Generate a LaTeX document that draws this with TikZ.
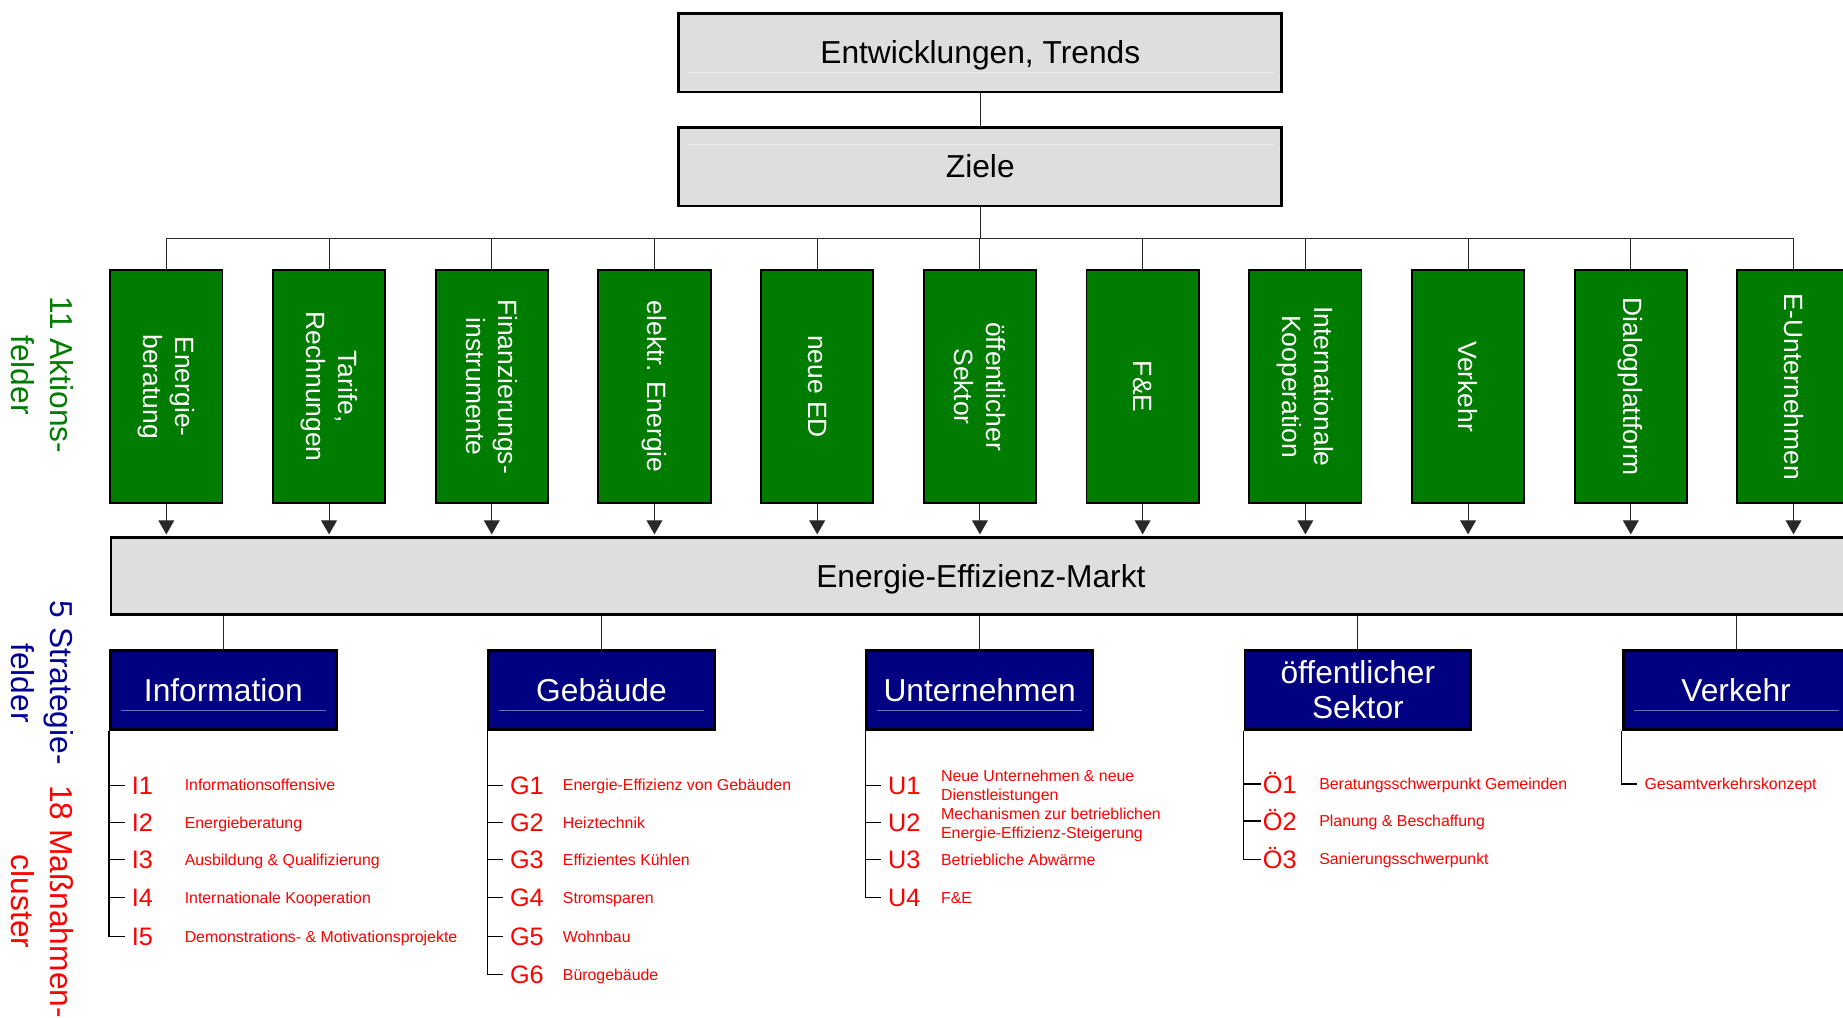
\documentclass[tikz,border=0pt]{standalone}
\usepackage{fontspec}
\setmainfont{Liberation Sans}
\usetikzlibrary{arrows.meta,calc}
\definecolor{aktgreen}{RGB}{0,124,0}
\definecolor{navyfill}{RGB}{0,0,128}
\definecolor{navytext}{RGB}{0,0,150}
\definecolor{boxgray}{RGB}{222,222,222}
\definecolor{itemred}{RGB}{255,0,0}
\definecolor{innerline}{RGB}{110,110,190}
\definecolor{faintline}{RGB}{238,238,238}
\definecolor{connline}{RGB}{40,40,40}
\begin{document}
\begin{tikzpicture}[x=1pt,y=-1pt,
  topbox/.style={draw=black,line width=2.3pt,fill=boxgray,minimum width=513pt,minimum height=67pt,inner sep=0pt,text height=19.3pt,text depth=0pt,font=\fontsize{27}{30}\selectfont},
  gbox/.style={draw=black,line width=1.6pt,fill=aktgreen,minimum width=95.5pt,minimum height=198pt,inner sep=0pt},
  gtext/.style={rotate=-90,text=white,align=center,inner sep=0pt,font=\fontsize{22.5}{27}\selectfont},
  mbox/.style={draw=black,line width=2.3pt,fill=boxgray,minimum width=1480pt,minimum height=66pt,inner sep=0pt,text height=19.3pt,text depth=0pt,font=\fontsize{27}{30}\selectfont},
  sbox/.style={draw=black,line width=2.4pt,fill=navyfill,minimum width=192pt,minimum height=67pt,inner sep=0pt,text=white,align=center,font=\fontsize{27}{30}\selectfont},
  conn/.style={draw=connline,line width=0.9pt},
  arr/.style={conn,-{Triangle[length=12pt,width=13.5pt]},shorten >=1.2pt},
  code/.style={anchor=west,inner xsep=6pt,inner ysep=0pt,text=itemred,text height=15.4pt,text depth=0pt,font=\fontsize{21.5}{24}\selectfont},
  desc/.style={anchor=west,inner sep=0pt,text=itemred,text height=9.7pt,text depth=0pt,font=\fontsize{13.5}{16}\selectfont},
  desctwo/.style={anchor=west,inner sep=0pt,text=itemred,align=left,font=\fontsize{13.5}{16}\selectfont},
  lab/.style={rotate=-90,align=center,inner sep=0pt,font=\fontsize{27}{33}\selectfont},
  tick/.style={draw=black,line width=1pt}
]
\useasboundingbox (0,0) rectangle (1568,866);
\clip (0,0) rectangle (1568,866);

% top boxes
\node[topbox] (trends) at (834,44.7) {Entwicklungen, Trends};
\node[topbox] (ziele) at (834,141.7) {Ziele};
\draw[faintline,line width=0.6pt] ([xshift=9pt,yshift=17.5pt]trends.south west) -- ([xshift=-9pt,yshift=17.5pt]trends.south east);
\draw[faintline,line width=0.6pt] ([xshift=9pt,yshift=-16pt]ziele.north west) -- ([xshift=-9pt,yshift=-16pt]ziele.north east);
\draw[conn] (trends.south) -- (ziele.north);

% market box
\node[mbox] (mm) at (834.5,490) {Energie-Effizienz-Markt};

\coordinate (busy) at (0,203);

% action fields
\foreach \k/\t in {1/{Energie-\\beratung},2/{Tarife,\\Rechnungen},3/{Finanzierungs-\\instrumente},4/{elektr. Energie},5/{neue ED},6/{öffentlicher\\Sektor},7/{F\&E},8/{Internationale\\Kooperation},9/{Verkehr},10/{Dialogplattform},11/{E-Unternehmen}}{
  \node[gbox] (g\k) at ({141.5+138.44*(\k-1)},328.9) {};
  \node[gtext] (gt\k) at (g\k) {\t};
  \draw[conn] (ziele.south) -- (ziele.south |- busy) -| (g\k.north);
  \draw[arr] (g\k.south) -- (g\k.south |- mm.north);
}

% strategy fields
\foreach \k/\t in {1/Information,2/Gebäude,3/Unternehmen,4/{öffentlicher\\Sektor},5/Verkehr}{
  \node[sbox] (s\k) at ({190+321.75*(\k-1)},587) {\t};
  \draw[conn] (s\k.north |- mm.south) -- (s\k.north);
}
\foreach \k in {1,2,3,5}{
  \draw[draw=innerline,line width=0.6pt] ([xshift=10pt,yshift=17.5pt]s\k.south west) -- ([xshift=-10pt,yshift=17.5pt]s\k.south east);
}

% Information items
\foreach \n/\c/\d/\yy in {1/I1/Informationsoffensive/668,2/I2/Energieberatung/700,3/I3/{Ausbildung \& Qualifizierung}/731.5,4/I4/{Internationale Kooperation}/763.5,5/I5/{Demonstrations- \& Motivationsprojekte}/797}{
  \node[code] (ic\n) at (106,\yy) {\c};
  \node[desc] (id\n) at (157,\yy) {\d};
  \draw[tick] (s1.south west) |- (ic\n.west);
}

% Gebaeude items
\foreach \n/\c/\d/\yy in {1/G1/{Energie-Effizienz von Gebäuden}/668,2/G2/Heiztechnik/700,3/G3/{Effizientes Kühlen}/731.5,4/G4/Stromsparen/763.5,5/G5/Wohnbau/797,6/G6/Bürogebäude/829}{
  \node[code] (gc\n) at (427.75,\yy) {\c};
  \node[desc] (gd\n) at (478.75,\yy) {\d};
  \draw[tick] (s2.south west) |- (gc\n.west);
}

% Unternehmen items
\node[code] (uc1) at (749.5,668) {U1};
\node[desctwo,yshift=-1.5pt] (ud1) at (800.5,668) {Neue Unternehmen \& neue\\Dienstleistungen};
\node[code] (uc2) at (749.5,700) {U2};
\node[desctwo,yshift=-1.5pt] (ud2) at (800.5,700) {Mechanismen zur betrieblichen\\Energie-Effizienz-Steigerung};
\node[code] (uc3) at (749.5,731.5) {U3};
\node[desc] (ud3) at (800.5,731.5) {Betriebliche Abwärme};
\node[code] (uc4) at (749.5,763.5) {U4};
\node[desc] (ud4) at (800.5,763.5) {F\&E};
\foreach \n in {1,2,3,4}{
  \draw[tick] (s3.south west) |- (uc\n.west);
}

% oeffentlicher Sektor items
\foreach \n/\c/\d/\yy in {1/Ö1/{Beratungsschwerpunkt Gemeinden}/667,2/Ö2/{Planung \& Beschaffung}/698.5,3/Ö3/Sanierungsschwerpunkt/731}{
  \node[code,inner xsep=1pt] (oc\n) at (1073.25,\yy) {\c};
  \node[desc] (od\n) at (1122.25,\yy) {\d};
  \draw[tick] (s4.south west) |- (oc\n.west);
}

% Verkehr item
\node[desc,inner xsep=6pt] (vd1) at (1393,667) {Gesamtverkehrskonzept};
\draw[tick] (s5.south west) |- (vd1.west);

% side labels
\node[lab,text=aktgreen] (labA) at (36,319) {11 Aktions-\\felder};
\node[lab,text=navytext] (labS) at (36,581) {5 Strategie-\\felder};
\node[lab,text=itemred] (labM) at (36,767) {18 Maßnahmen-\\cluster};
\end{tikzpicture}
\end{document}
